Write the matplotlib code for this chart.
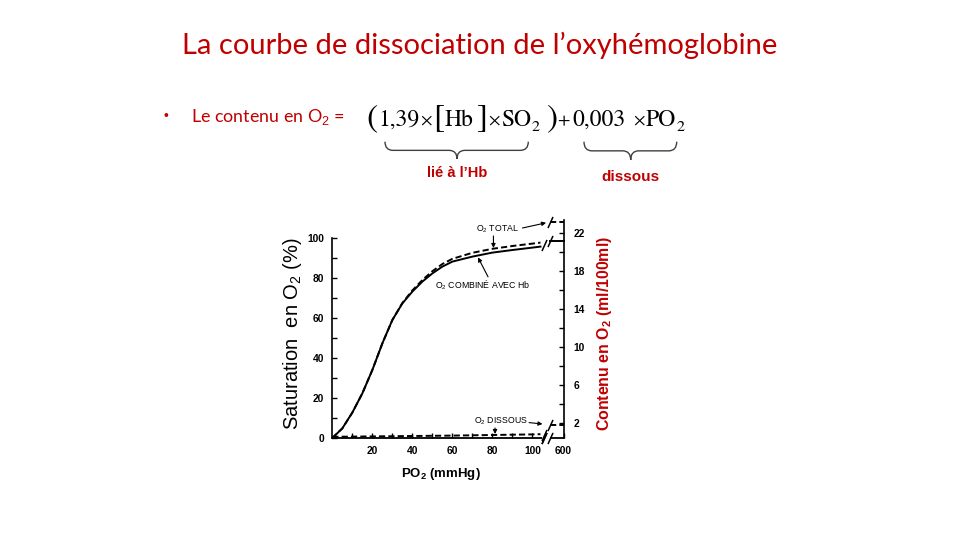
import matplotlib
matplotlib.use('Agg')
import matplotlib.pyplot as plt
from matplotlib import font_manager
from matplotlib.path import Path
from matplotlib.patches import PathPatch

# ---------------- data ----------------
po2 = [0, 5, 10, 15, 20, 25, 30, 35, 40, 45, 50, 55, 60, 70, 80, 90, 100, 104]
sat_hb = [0, 4.8, 12.7, 22.3, 34, 47.3, 59, 67.3, 73.2, 78.2, 82.3, 85.7, 88.2,
          90.7, 92.7, 94.0, 95.2, 95.7]
sat_total = [0, 4.8, 12.7, 22.3, 34, 47.3, 59, 67.5, 73.8, 79.0, 83.4, 87.0, 89.6,
             92.6, 94.6, 96.0, 97.2, 97.7]
po2_dissolved = [0, 20, 40, 60, 80, 100, 104]
dissolved = [0.6, 0.8, 1.0, 1.2, 1.5, 1.8, 1.9]
# values at 600 mmHg (drawn after the axis break)
x600 = [109, 115.5]
hb_600 = [98.3, 98.3]
total_600 = [108, 108]
dissolved_600 = [6.5, 6.5]

left_ticks = list(range(0, 101, 10))
left_labels = [str(v) if v % 20 == 0 else '' for v in left_ticks]
bottom_ticks = list(range(10, 101, 10)) + [115.5]
bottom_labels = [str(v) if v % 20 == 0 else '' for v in range(10, 101, 10)] + ['600']
right_ticks = list(range(2, 23, 2))
right_labels = [str(v) if v % 4 == 2 else '' for v in right_ticks]

title = "La courbe de dissociation de l\u2019oxyhémoglobine"
red = '#C00000'

# ---------------- fonts ----------------
def has_font(name):
    try:
        font_manager.findfont(name, fallback_to_default=False)
        return True
    except Exception:
        return False

narrow = 'Liberation Sans Narrow' if has_font('Liberation Sans Narrow') else 'Liberation Sans'
serif = 'STIXGeneral' if has_font('STIXGeneral') else 'Liberation Serif'
plt.rcParams['mathtext.fontset'] = 'custom'
plt.rcParams['mathtext.rm'] = 'Liberation Sans'
plt.rcParams['mathtext.it'] = 'Liberation Sans:italic'
plt.rcParams['mathtext.bf'] = 'Liberation Sans:bold'
plt.rcParams['font.family'] = ['Liberation Sans', 'DejaVu Sans']

W, H = 960, 540
fig = plt.figure(figsize=(9.6, 5.4), dpi=100)
fig.patch.set_facecolor('white')

def fx(x):
    return x / W

def fy(y):
    return 1 - y / H

# ---------------- axes ----------------
x0p, x1p, y0p, y1p = 332.3, 563.5, 438, 220
ax = fig.add_axes([fx(x0p), fy(y0p), (x1p - x0p) / W, (y0p - y1p) / H])
ax.set_xlim(0, 115.5)
ax.set_ylim(0, 109)
ax.patch.set_alpha(0)
for s in ['top', 'right', 'bottom']:
    ax.spines[s].set_visible(False)
ax.spines['left'].set_bounds(0, 100)
ax.spines['left'].set_linewidth(1.2)

ax.set_yticks(left_ticks)
ax.set_yticklabels(left_labels)
ax.set_xticks(bottom_ticks)
ax.set_xticklabels(bottom_labels)
ax.tick_params(direction='in', length=3.6, width=1.0, labelsize=7.4, pad=6,
               colors='k')
for lab in ax.get_xticklabels() + ax.get_yticklabels():
    lab.set_fontfamily(narrow)
    lab.set_fontweight('bold')

# broken bottom axis line
ax.plot([0, 104.8], [0, 0], color='k', lw=1.3, clip_on=False, solid_capstyle='butt')
ax.plot([108.6, 115.5], [0, 0], color='k', lw=1.3, clip_on=False, solid_capstyle='butt')

ax2 = ax.twinx()
a, b = 0.2105, 0.453
ax2.set_ylim(a * 0 + b, a * 109 + b)
for s in ['top', 'left', 'bottom']:
    ax2.spines[s].set_visible(False)
ax2.spines['right'].set_linewidth(1.2)
ax2.set_yticks(right_ticks)
ax2.set_yticklabels(right_labels)
ax2.tick_params(direction='in', length=3.6, width=1.0, labelsize=7.4, pad=7)
for lab in ax2.get_yticklabels():
    lab.set_fontfamily(narrow)
    lab.set_fontweight('bold')

# ---------------- curves ----------------
ax.plot(po2, sat_hb, color='k', lw=1.4, clip_on=False)
ax.plot(po2, sat_total, color='k', lw=1.4, dashes=(3.2, 1.6), clip_on=False)
ax.plot(po2_dissolved, dissolved, color='k', lw=1.4, dashes=(3.2, 1.6), clip_on=False)
ax.plot(x600, hb_600, color='k', lw=1.4, clip_on=False)
ax.plot(x600, total_600, color='k', lw=1.4, dashes=(3.2, 1.6), clip_on=False)
ax.plot(x600, dissolved_600, color='k', lw=1.4, dashes=(3.2, 1.6), clip_on=False)

slash = Path([(-0.45, -1.0), (0.45, 1.0)])
brk_x = [105.6, 105.6, 105.6, 105.6, 108.6, 108.6, 108.6, 108.6]
brk_y = [96.6, 1.6, 0.0, 0.0, 98.3, 108, 6.5, 0.0]
ax.plot(brk_x, brk_y, ls='none', marker=slash, ms=8, mec='k', mew=1.1, clip_on=False)

# ---------------- annotations ----------------
arrow = dict(arrowstyle='-|>', color='k', lw=0.8, mutation_scale=6,
             shrinkA=0, shrinkB=0)
tkw = dict(fontfamily=narrow, fontsize=6.3, ha='center', va='center', color='k')
ax.text(82.3, 104.5, 'O$_2$ TOTAL', **tkw)
ax.annotate('', xy=(106.8, 107.6), xytext=(95.0, 105.0), arrowprops=arrow,
            annotation_clip=False)
ax.annotate('', xy=(80.5, 95.0), xytext=(80.5, 101.0), arrowprops=arrow)
ax.text(75.3, 76.5, 'O$_2$ COMBINÉ AVEC Hb', **tkw)
ax.annotate('', xy=(72.8, 90.3), xytext=(77.8, 80.6), arrowprops=arrow)
ax.text(84.3, 8.2, 'O$_2$ DISSOUS', **tkw)
ax.annotate('', xy=(105.0, 7.0), xytext=(98.3, 7.7), arrowprops=arrow,
            annotation_clip=False)
ax.annotate('', xy=(81.3, 2.0), xytext=(81.3, 5.0), arrowprops=arrow)

# axis titles
fig.text(fx(292), fy(334), 'Saturation  en O$_2$ (%)', rotation=90, ha='center',
         va='center', fontsize=14.5, color='k')
fig.text(fx(605), fy(334), 'Contenu en O$_\\mathbf{2}$ (ml/100ml)', rotation=90,
         ha='center', va='center', fontsize=11.4, color=red, fontweight='bold')
fig.text(fx(441), fy(477), 'PO$_\\mathbf{2}$ (mmHg)', ha='center', va='baseline',
         fontsize=9.5, fontweight='bold', color='k')

# ---------------- slide text ----------------
fig.text(0.5, fy(54.3), title, ha='center', va='baseline', fontfamily='Lato',
         fontsize=21, color=red)
fig.text(fx(166), fy(116), '\u2022', ha='center', va='center', fontsize=10, color=red)
fig.text(fx(190.7), fy(122.3), 'Le contenu en O$_2$ =', ha='left', va='baseline',
         fontfamily='Lato', fontsize=12.9, color=red)

# formula, in pieces so that the delimiters can be taller than the text
base = 126
fs, fd, fsub, fop = 17, 24, 11.5, 13
formula_pieces = [
    # (x px, baseline shift px, text, size)
    (366, 0, '(', fd),
    (378, 0, '1,39', fs),
    (420, -1, '\u00d7', fop),
    (433, 0, '[', fd),
    (445, 0, 'Hb', fs),
    (477, 0, ']', fd),
    (488, -1, '\u00d7', fop),
    (501, 0, 'SO', fs),
    (532, 5, '2', fsub),
    (546, 0, ')', fd),
    (557, -1, '+', fop),
    (572, 0, '0,003', fs),
    (633, -1, '\u00d7', fop),
    (646, 0, 'PO', fs),
    (677, 5, '2', fsub),
]
for xp, dy, txt, size in formula_pieces:
    fig.text(fx(xp), fy(base + dy), txt, ha='left', va='baseline', fontsize=size,
             fontfamily=serif, color='k')


def brace(xa, xb, xm, ytop, ytip):
    ymid = (ytop + ytip) / 2
    r = 8
    pts = [(xa, ytop), (xa, ymid), (xa + r, ymid), (xm - r, ymid), (xm, ymid),
           (xm, ytip), (xm, ymid), (xm + r, ymid), (xb - r, ymid), (xb, ymid),
           (xb, ytop)]
    codes = [Path.MOVETO, Path.CURVE3, Path.CURVE3, Path.LINETO, Path.CURVE3,
             Path.CURVE3, Path.CURVE3, Path.CURVE3, Path.LINETO, Path.CURVE3,
             Path.CURVE3]
    verts = [(fx(x), fy(y)) for x, y in pts]
    fig.add_artist(PathPatch(Path(verts, codes), transform=fig.transFigure,
                             fill=False, lw=1.0, ec='#404040'))


brace(385, 528.3, 457, 141.7, 159)
brace(584, 676.7, 630.7, 141.7, 160)
fig.text(fx(457), fy(176.7), 'lié à l\u2019Hb', ha='center', va='baseline',
         fontsize=10.5, fontweight='bold', color=red)
fig.text(fx(630.5), fy(181), 'dissous', ha='center', va='baseline',
         fontsize=11, fontweight='bold', color=red)

fig.savefig('out.png', dpi=100, facecolor='white')
